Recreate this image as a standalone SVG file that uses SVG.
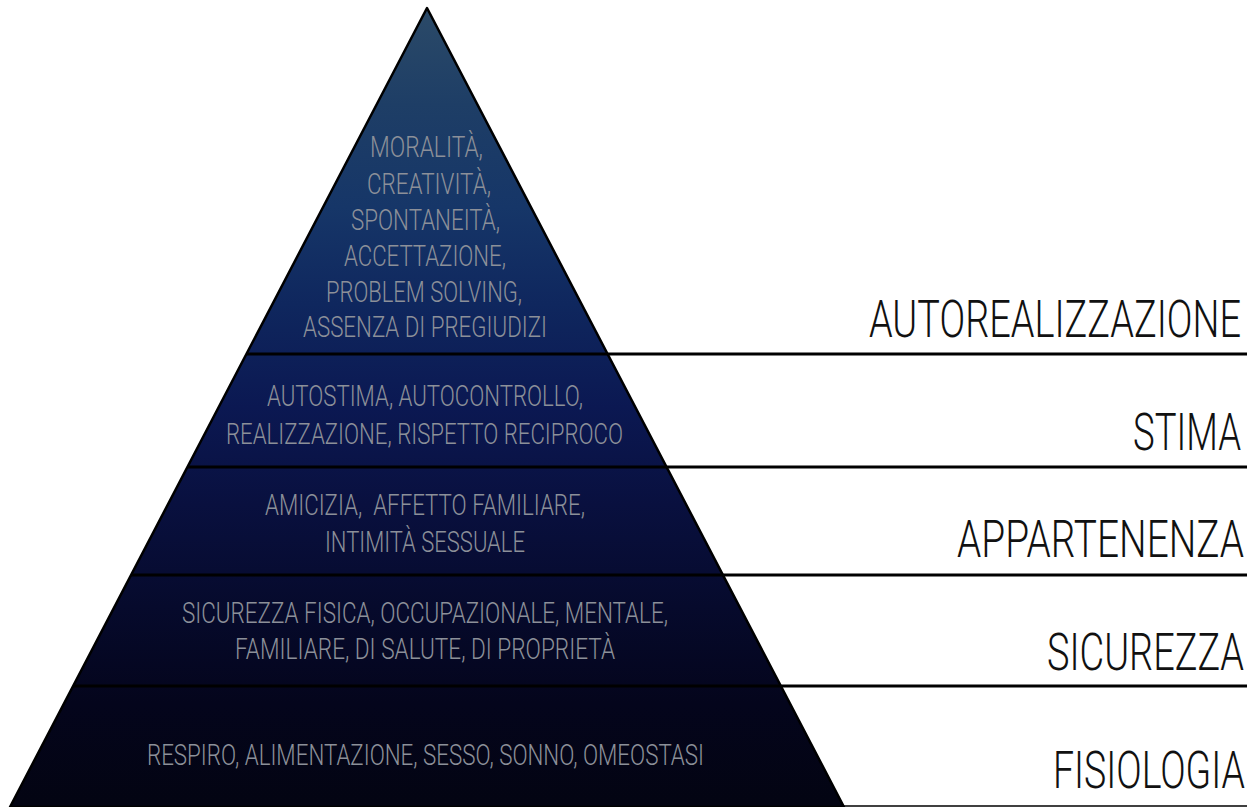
<svg xmlns="http://www.w3.org/2000/svg" width="1258" height="807" viewBox="0 0 1258 807">
<style>
.lab{font-family:Roboto,"Liberation Sans Narrow","DejaVu Sans Condensed",sans-serif;font-weight:300;font-size:52px;fill:#111;text-anchor:end;}
.in{font-family:Roboto,"Liberation Sans Narrow","DejaVu Sans Condensed",sans-serif;font-weight:300;font-size:30px;fill:#8c9099;white-space:pre;}
.sep{stroke:#000;stroke-width:3;fill:none;}
</style>
<defs>
<linearGradient id="pg" gradientUnits="userSpaceOnUse" x1="0" y1="8" x2="0" y2="807">
<stop offset="0" stop-color="#2b4a68"/>
<stop offset="0.12" stop-color="#1e3e66"/>
<stop offset="0.25" stop-color="#163668"/>
<stop offset="0.37" stop-color="#0f275e"/>
<stop offset="0.5" stop-color="#0b1852"/>
<stop offset="0.62" stop-color="#09103f"/>
<stop offset="0.75" stop-color="#060a2c"/>
<stop offset="0.87" stop-color="#04051c"/>
<stop offset="1" stop-color="#030412"/>
</linearGradient>
</defs>
<rect width="1258" height="807" fill="#fff"/>
<g id="pyramid">
<polygon points="427,8 844,807 10,807" fill="url(#pg)" stroke="#000" stroke-width="2.5" stroke-linejoin="round"/>
</g>
<g id="connectors">
<line class="sep" x1="246" y1="354" x2="1247" y2="354"/>
<line class="sep" x1="187" y1="467" x2="1247" y2="467"/>
<line class="sep" x1="131" y1="575" x2="1247" y2="575"/>
<line class="sep" x1="73" y1="686" x2="1247" y2="686"/>
<line x1="844" y1="806" x2="1247" y2="806" stroke="#000" stroke-width="1.5"/>
</g>
<g id="autorealizzazione">
<text class="in" x="370" y="157" textLength="113" lengthAdjust="spacingAndGlyphs">MORALITÀ,</text>
<text class="in" x="367" y="194" textLength="124" lengthAdjust="spacingAndGlyphs">CREATIVITÀ,</text>
<text class="in" x="351" y="230" textLength="149" lengthAdjust="spacingAndGlyphs">SPONTANEITÀ,</text>
<text class="in" x="344" y="266" textLength="162" lengthAdjust="spacingAndGlyphs">ACCETTAZIONE,</text>
<text class="in" x="326" y="302" textLength="196" lengthAdjust="spacingAndGlyphs">PROBLEM SOLVING,</text>
<text class="in" x="303" y="337" textLength="244" lengthAdjust="spacingAndGlyphs">ASSENZA DI PREGIUDIZI</text>
<text class="lab" transform="translate(1241,337) scale(0.72,1)" x="0" y="0" textLength="516.7" lengthAdjust="spacingAndGlyphs">AUTOREALIZZAZIONE</text>
</g>
<g id="stima">
<text class="in" x="267" y="406" textLength="316" lengthAdjust="spacingAndGlyphs">AUTOSTIMA, AUTOCONTROLLO,</text>
<text class="in" x="226" y="444" textLength="397" lengthAdjust="spacingAndGlyphs">REALIZZAZIONE, RISPETTO RECIPROCO</text>
<text class="lab" transform="translate(1241,450) scale(0.72,1)" x="0" y="0" textLength="150" lengthAdjust="spacingAndGlyphs">STIMA</text>
</g>
<g id="appartenenza">
<text class="in" x="265" y="515" textLength="320" lengthAdjust="spacingAndGlyphs">AMICIZIA,  AFFETTO FAMILIARE,</text>
<text class="in" x="325" y="552" textLength="200" lengthAdjust="spacingAndGlyphs">INTIMITÀ SESSUALE</text>
<text class="lab" transform="translate(1244,557) scale(0.72,1)" x="0" y="0" textLength="398.6" lengthAdjust="spacingAndGlyphs">APPARTENENZA</text>
</g>
<g id="sicurezza">
<text class="in" x="182" y="623" textLength="486" lengthAdjust="spacingAndGlyphs">SICUREZZA FISICA, OCCUPAZIONALE, MENTALE,</text>
<text class="in" x="235" y="659" textLength="380" lengthAdjust="spacingAndGlyphs">FAMILIARE, DI SALUTE, DI PROPRIETÀ</text>
<text class="lab" transform="translate(1244,670) scale(0.72,1)" x="0" y="0" textLength="273.6" lengthAdjust="spacingAndGlyphs">SICUREZZA</text>
</g>
<g id="fisiologia">
<text class="in" x="147" y="765" textLength="557" lengthAdjust="spacingAndGlyphs">RESPIRO, ALIMENTAZIONE, SESSO, SONNO, OMEOSTASI</text>
<text class="lab" transform="translate(1245,788) scale(0.72,1)" x="0" y="0" textLength="266.7" lengthAdjust="spacingAndGlyphs">FISIOLOGIA</text>
</g>
</svg>
